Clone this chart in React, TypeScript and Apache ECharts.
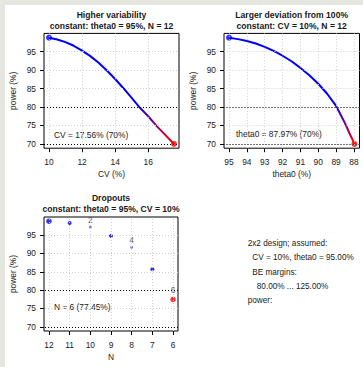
import React, { useEffect, useRef } from "react";
import * as echarts from "echarts";

// Panel 1: power vs CV (theta0 = 95%, N = 12)
const cvValues = [10, 10.5, 11, 11.5, 12, 12.5, 13, 13.5, 14, 14.5, 15, 15.5, 16, 16.5, 17, 17.56];
const powerCV = [98.8, 98.3, 97.6, 96.6, 95.3, 93.8, 92.0, 89.9, 87.6, 85.1, 82.5, 79.8, 77.5, 74.9, 72.6, 70.0];

// Panel 2: power vs theta0 (CV = 10%, N = 12)
const theta0Values = [95, 94.5, 94, 93.5, 93, 92.5, 92, 91.5, 91, 90.5, 90, 89.5, 89, 88.5, 88.25, 87.97];
const powerTheta = [98.8, 98.4, 97.9, 97.2, 96.3, 95.2, 93.9, 92.4, 90.6, 88.6, 86.3, 83.6, 80.3, 75.6, 72.9, 70.0];

// Panel 3: dropouts (theta0 = 95%, CV = 10%)
const nValues = [12, 11, 10, 9, 8, 7, 6];
const powerN = [98.8, 98.3, 97.2, 94.8, 91.7, 85.7, 77.45];

// tick labels
const yTicks = [70, 75, 80, 85, 90, 95];
const cvTicks = [10, 12, 14, 16];
const thetaTicks = [95, 94, 93, 92, 91, 90, 89, 88];
const nTicks = [12, 11, 10, 9, 8, 7, 6];
const refLines = [80, 70];

const titles = [
  ["Higher variability", "constant: theta0 = 95%, N = 12"],
  ["Larger deviation from 100%", "constant: CV = 10%, N = 12"],
  ["Dropouts", "constant: theta0 = 95%, CV = 10%"],
];
const notes = ["CV = 17.56% (70%)", "theta0 = 87.97% (70%)", "N = 6 (77.45%)"];
const infoLines = [
  "2x2 design; assumed:",
  "  CV = 10%, theta0 = 95.00%",
  "  BE margins:",
  "    80.00% ... 125.00%",
  "power:",
];

const FONT = "'Liberation Sans', Arial, sans-serif";
const TXT = "#1a1a1a";
const FS = 8.4;

function range4(a: number, b: number): [number, number] {
  const lo = Math.min(a, b);
  const hi = Math.max(a, b);
  const d = (hi - lo) * 0.04;
  return [lo - d, hi + d];
}

export default function App() {
  const ref = useRef<HTMLDivElement>(null);
  useEffect(() => {
    document.body.style.margin = "0";
    const chart = echarts.init(ref.current!, null, { renderer: "svg" });

    const yr = range4(Math.min(...powerCV), Math.max(...powerCV));
    const xr1 = range4(cvValues[0], cvValues[cvValues.length - 1]);
    const xr2 = range4(theta0Values[0], theta0Values[theta0Values.length - 1]);
    const xr3 = range4(nValues[0], nValues[nValues.length - 1]);

    const grids = [
      { left: 44, top: 33.4, width: 135, height: 114.8 },
      { left: 224, top: 33.4, width: 135.5, height: 114.8 },
      { left: 44, top: 217, width: 134, height: 114 },
    ].map((g) => ({ ...g, show: true, borderColor: "#000", borderWidth: 1, backgroundColor: "transparent" }));

    const mkX = (gi: number, r: [number, number], ticks: number[], name: string, inverse: boolean) => ({
      type: "value",
      gridIndex: gi,
      min: r[0],
      max: r[1],
      inverse,
      name,
      nameLocation: "middle",
      nameGap: 22,
      nameTextStyle: { fontFamily: FONT, fontSize: FS, color: TXT },
      axisLine: { show: false },
      axisTick: { show: true, inside: false, length: 4, customValues: ticks, lineStyle: { color: "#000" } },
      axisLabel: { customValues: ticks, fontFamily: FONT, fontSize: FS, color: TXT, margin: 10 },
      splitLine: { show: false },
    });
    const mkY = (gi: number) => ({
      type: "value",
      gridIndex: gi,
      min: yr[0],
      max: yr[1],
      name: "power (%)",
      nameLocation: "middle",
      nameGap: 27,
      nameTextStyle: { fontFamily: FONT, fontSize: FS, color: TXT },
      axisLine: { show: false },
      axisTick: { show: true, inside: false, length: 4, customValues: yTicks, lineStyle: { color: "#000" } },
      axisLabel: { customValues: yTicks, fontFamily: FONT, fontSize: FS, color: TXT, margin: 8 },
      splitLine: { show: false },
    });

    const gridLines = (xt: number[]) => ({
      silent: true,
      symbol: ["none", "none"],
      label: { show: false },
      emphasis: { disabled: true },
      lineStyle: { color: "#d0d0d0", type: [1, 2], width: 1 },
      data: [...xt.map((v) => ({ xAxis: v })), ...yTicks.map((v) => ({ yAxis: v }))],
    });
    const refMark = {
      silent: true,
      symbol: ["none", "none"],
      label: { show: false },
      emphasis: { disabled: true },
      lineStyle: { color: "#000", type: [1, 2], width: 1 },
      data: refLines.map((v) => ({ yAxis: v })),
    };

    const grad = () =>
      new echarts.graphic.LinearGradient(0, 0, 0, 1, [
        { offset: 0, color: "#0000ff" },
        { offset: 0.62, color: "#0000ff" },
        { offset: 1, color: "#ff0000" },
      ]);

    const curveSeries = (gi: number, xs: number[], ys: number[], xt: number[]) => [
      { type: "line", xAxisIndex: gi, yAxisIndex: gi, data: [], z: 1, markLine: gridLines(xt) },
      { type: "line", xAxisIndex: gi, yAxisIndex: gi, data: [], z: 2, markLine: refMark },
      {
        type: "line",
        xAxisIndex: gi,
        yAxisIndex: gi,
        data: xs.map((x, i) => [x, ys[i]]),
        showSymbol: false,
        smooth: false,
        z: 3,
        lineStyle: { width: 2, color: grad() },
      },
      {
        type: "scatter",
        xAxisIndex: gi,
        yAxisIndex: gi,
        z: 4,
        symbolSize: 6,
        data: [
          { value: [xs[0], ys[0]], itemStyle: { color: "#0000ff" } },
          { value: [xs[xs.length - 1], ys[ys.length - 1]], itemStyle: { color: "#ff0000" } },
        ],
      },
    ];

    const dropData = nValues.map((n, i) => {
      const drop = nValues[0] - n;
      const last = i === nValues.length - 1;
      const labelled = drop > 0 && drop % 2 === 0;
      return {
        value: [n, powerN[i]],
        symbolSize: last ? 5.5 : i === 0 ? 5.5 : labelled ? 3 : 4,
        itemStyle: { color: last ? "#ff0000" : labelled ? "#6060ff" : "#0000ee" },
        label: {
          show: labelled,
          position: "top",
          distance: last ? 3 : 2,
          formatter: String(drop),
          fontFamily: FONT,
          fontSize: FS,
          color: "#333",
        },
      };
    });

    const textEl = (x: number, y: number, text: string, opts: any = {}) => ({
      type: "text",
      x,
      y,
      silent: true,
      style: {
        text,
        fontFamily: FONT,
        fontSize: FS,
        fill: TXT,
        align: "left",
        verticalAlign: "middle",
        ...opts,
      },
    });

    const titleCenters = [
      [111.5, 15, 26],
      [291.7, 15, 26],
      [111, 197.5, 208.5],
    ];
    const noteAt = [
      [54, 135],
      [236, 134],
      [54, 307],
    ];
    const infoX = [247.7, 247.7, 247.7, 247.7, 247.7];
    const infoY = [243.3, 257.3, 272.3, 286.7, 300.7];

    const graphics: any[] = [];
    titles.forEach((t, i) => {
      const [cx, y1, y2] = titleCenters[i];
      graphics.push(textEl(cx, y1, t[0], { align: "center", fontWeight: "bold", fontSize: 8.6 }));
      graphics.push(textEl(cx, y2, t[1], { align: "center", fontWeight: "bold", fontSize: 8.6 }));
    });
    notes.forEach((n, i) => graphics.push(textEl(noteAt[i][0], noteAt[i][1], n)));
    infoLines.forEach((l, i) => graphics.push(textEl(infoX[i], infoY[i], l, { fontSize: 8.2 })));

    chart.setOption({
      animation: false,
      backgroundColor: "transparent",
      grid: grids,
      xAxis: [
        mkX(0, xr1, cvTicks, "CV (%)", false),
        mkX(1, xr2, thetaTicks, "theta0 (%)", true),
        mkX(2, xr3, nTicks, "N", true),
      ],
      yAxis: [mkY(0), mkY(1), mkY(2)],
      graphic: graphics,
      series: [
        ...curveSeries(0, cvValues, powerCV, cvTicks),
        ...curveSeries(1, theta0Values, powerTheta, thetaTicks),
        { type: "line", xAxisIndex: 2, yAxisIndex: 2, data: [], z: 1, markLine: gridLines(nTicks) },
        { type: "line", xAxisIndex: 2, yAxisIndex: 2, data: [], z: 2, markLine: refMark },
        { type: "scatter", xAxisIndex: 2, yAxisIndex: 2, z: 4, data: dropData },
      ],
    });
    return () => chart.dispose();
  }, []);

  return (
    <div style={{ position: "relative", width: 363, height: 367, background: "#e6e6e1", overflow: "hidden" }}>
      <div style={{ position: "absolute", left: 5, top: 5, right: 0, bottom: 0, background: "#ffffff" }} />
      <div ref={ref} style={{ position: "absolute", left: 0, top: 0, width: 363, height: 367 }} />
    </div>
  );
}
